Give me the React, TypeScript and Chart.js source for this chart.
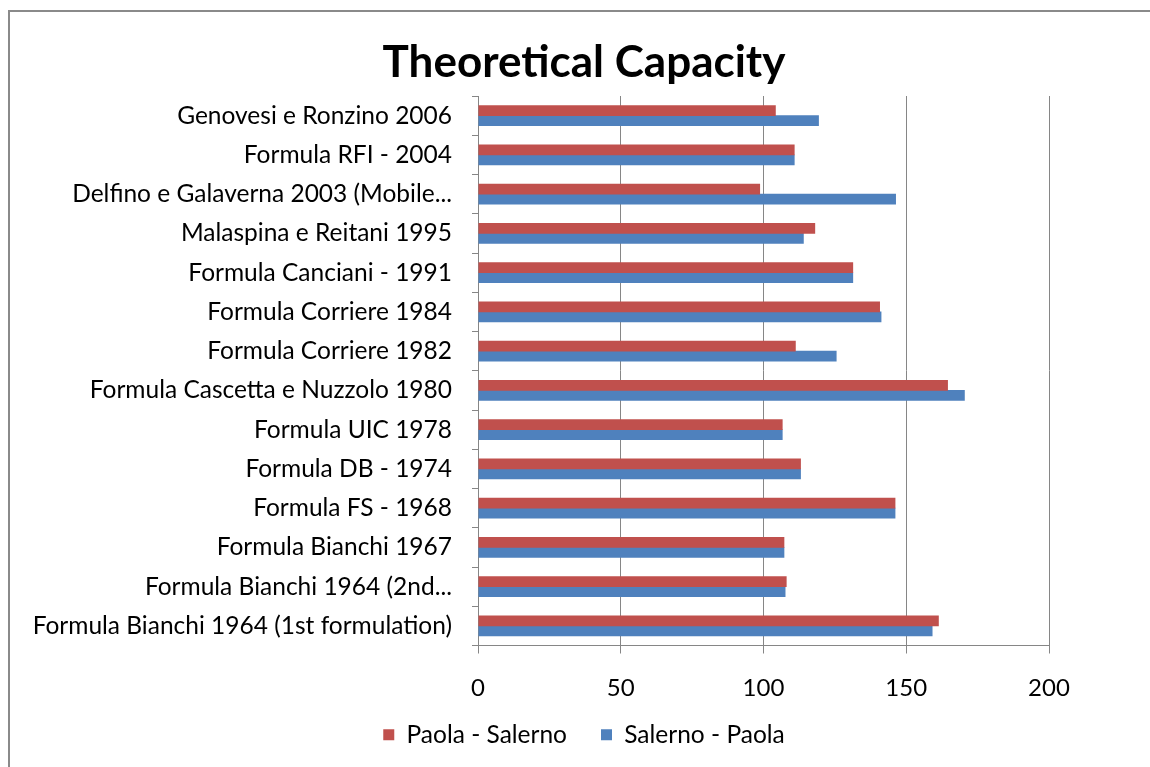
import { useEffect, useRef } from "react";
import { Chart, registerables } from "chart.js";

Chart.register(...registerables);

const categories = [
  "Genovesi e Ronzino 2006",
  "Formula RFI - 2004",
  "Delfino e Galaverna 2003 (Mobile...",
  "Malaspina e Reitani 1995",
  "Formula Canciani - 1991",
  "Formula Corriere 1984",
  "Formula Corriere 1982",
  "Formula Cascetta e Nuzzolo 1980",
  "Formula UIC 1978",
  "Formula DB - 1974",
  "Formula FS - 1968",
  "Formula Bianchi 1967",
  "Formula Bianchi 1964 (2nd...",
  "Formula Bianchi 1964 (1st formulation)",
];

const paolaSalerno = [104.3, 110.9, 98.8, 118.1, 131.4, 140.8, 111.3, 164.6, 106.7, 113.1, 146.2, 107.3, 108.1, 161.4];
const salernoPaola = [119.4, 110.9, 146.4, 114.1, 131.4, 141.3, 125.6, 170.5, 106.7, 113.1, 146.2, 107.3, 107.7, 159.2];

const seriesNames = ["Paola - Salerno", "Salerno - Paola"];
const chartTitle = "Theoretical Capacity";
const xMin = 0;
const xMax = 200;
const xStep = 50;

const FONT = "Lato, 'Open Sans', sans-serif";
const GRID = "#868686";

const noLabelClip = (s: any) => {
  s._computeLabelArea = () => undefined;
};

export default function App() {
  const ref = useRef<HTMLCanvasElement>(null);

  useEffect(() => {
    if (!ref.current) return;
    const chart = new Chart(ref.current, {
      type: "bar",
      data: {
        labels: categories,
        datasets: [
          {
            label: seriesNames[0],
            data: paolaSalerno,
            backgroundColor: "#C0504D",
            borderWidth: 0,
            categoryPercentage: 0.51,
            barPercentage: 1.05,
          },
          {
            label: seriesNames[1],
            data: salernoPaola,
            backgroundColor: "#4F81BD",
            borderWidth: 0,
            categoryPercentage: 0.51,
            barPercentage: 1.05,
          },
        ],
      },
      options: {
        indexAxis: "y",
        animation: false,
        responsive: false,
        maintainAspectRatio: false,
        layout: { padding: { left: 111, right: 93, top: 0, bottom: 2 } },
        scales: {
          x: {
            min: xMin,
            max: xMax,
            ticks: {
              stepSize: xStep,
              padding: 20,
              color: "#000",
              font: { family: FONT, size: 24 },
            },
            grid: { color: GRID, lineWidth: 1, tickLength: 8, drawTicks: true },
            border: { color: GRID, width: 1 },
            afterFit: (s: any) => {
              s.height = 43;
              noLabelClip(s);
            },
          },
          y: {
            ticks: {
              padding: 20,
              color: "#000",
              font: { family: FONT, size: 24.5 },
              autoSkip: false,
            },
            grid: {
              offset: true,
              drawOnChartArea: false,
              tickLength: 6,
              color: GRID,
            },
            border: { color: GRID, width: 1 },
            afterFit: (s: any) => {
              s.width = 359;
              noLabelClip(s);
            },
          },
        },
        plugins: {
          title: {
            display: true,
            text: chartTitle,
            color: "#000",
            font: { family: FONT, size: 44, weight: "bold", lineHeight: 1.2 },
            padding: { top: 28.6, bottom: 6.6 },
          },
          legend: {
            position: "bottom",
            labels: {
              boxWidth: 11,
              boxHeight: 11,
              padding: 34,
              color: "#000",
              font: { family: FONT, size: 24.5 },
            },
          },
          tooltip: { enabled: false },
        },
      },
    } as any);
    return () => chart.destroy();
  }, []);

  return (
    <div style={{ position: "relative", width: 1134, height: 751, background: "#fff" }}>
      <div
        style={{
          position: "fixed",
          left: 8,
          top: 10,
          right: -20,
          bottom: -20,
          borderLeft: "2px solid #8a8a8a",
          borderTop: "2px solid #8a8a8a",
          pointerEvents: "none",
        }}
      />
      <canvas ref={ref} width={1134} height={751} style={{ position: "absolute", left: 0, top: 0, display: "block" }} />
    </div>
  );
}
